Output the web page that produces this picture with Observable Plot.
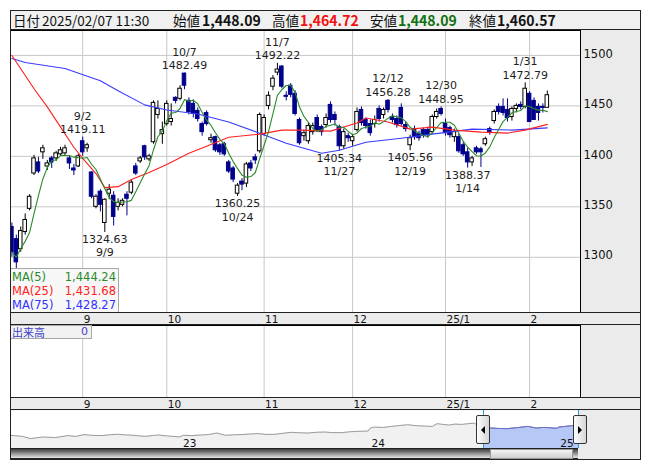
<!DOCTYPE html>
<html lang="ja"><head><meta charset="utf-8">
<script src="https://cdn.jsdelivr.net/npm/d3@7"></script>
<script src="https://cdn.jsdelivr.net/npm/@observablehq/plot@0.6"></script>
<style>
html,body{margin:0;padding:0;background:#fff;}
#root{position:relative;width:653px;height:470px;overflow:hidden;font-family:"DejaVu Sans",sans-serif;}
.box{position:absolute;box-sizing:border-box;}
.hd{position:absolute;top:0;line-height:18px;white-space:nowrap;font-family:"Noto Sans CJK JP",sans-serif;font-size:13.5px;color:#111;}
.hd.b{font-weight:bold;font-size:14px;}
</style></head><body><div id="root"></div>
<script>
// ---------- data ----------
const dates = [
"2024/08/08","2024/08/09","2024/08/13","2024/08/14","2024/08/15","2024/08/16","2024/08/19","2024/08/20","2024/08/21","2024/08/22","2024/08/23","2024/08/26","2024/08/27","2024/08/28","2024/08/29","2024/08/30",
"2024/09/02","2024/09/03","2024/09/04","2024/09/05","2024/09/06","2024/09/09","2024/09/10","2024/09/11","2024/09/12","2024/09/13","2024/09/17","2024/09/18","2024/09/19","2024/09/20","2024/09/24","2024/09/25","2024/09/26","2024/09/27","2024/09/30",
"2024/10/01","2024/10/02","2024/10/03","2024/10/04","2024/10/07","2024/10/08","2024/10/09","2024/10/10","2024/10/11","2024/10/15","2024/10/16","2024/10/17","2024/10/18","2024/10/21","2024/10/22","2024/10/23","2024/10/24","2024/10/25","2024/10/28","2024/10/29","2024/10/30","2024/10/31",
"2024/11/01","2024/11/05","2024/11/06","2024/11/07","2024/11/08","2024/11/11","2024/11/12","2024/11/13","2024/11/14","2024/11/15","2024/11/18","2024/11/19","2024/11/20","2024/11/21","2024/11/22","2024/11/25","2024/11/26","2024/11/27","2024/11/28","2024/11/29",
"2024/12/02","2024/12/03","2024/12/04","2024/12/05","2024/12/06","2024/12/09","2024/12/10","2024/12/11","2024/12/12","2024/12/13","2024/12/16","2024/12/17","2024/12/18","2024/12/19","2024/12/20","2024/12/23","2024/12/24","2024/12/25","2024/12/26","2024/12/27","2024/12/30",
"2025/01/06","2025/01/07","2025/01/08","2025/01/09","2025/01/10","2025/01/14","2025/01/15","2025/01/16","2025/01/17","2025/01/20","2025/01/21","2025/01/22","2025/01/23","2025/01/24","2025/01/27","2025/01/28","2025/01/29","2025/01/30","2025/01/31",
"2025/02/03","2025/02/04","2025/02/05","2025/02/06","2025/02/07"];
const open = [1330,1318,1308,1325,1348,1383,1394,1404,1390,1398,1398,1402,1403,1398,1388,1390,
1415,1408,1384,1350,1365,1334,1363,1361,1350,1352,1362,1364,1390,1395,1410,1397,1414,1441,1422,
1432,1434,1458,1457,1482,1455,1452,1445,1432,1443,1416,1419,1411,1412,1394,1388,1363,1375,1373,1393,1399,1405,
1422,1450,1469,1483,1489,1460,1470,1462,1436,1420,1415,1424,1438,1429,1431,1451,1441,1429,1410,1420,
1415,1426,1446,1436,1432,1432,1447,1441,1455,1439,1437,1448,1431,1411,1427,1422,1426,1426,1424,1439,1447,
1432,1428,1419,1419,1411,1404,1394,1408,1407,1412,1427,1435,1449,1449,1446,1439,1447,1451,1449,
1462,1455,1449,1449,1448.09];
const high = [1334,1322,1330,1343,1362,1401,1399,1411,1396,1400,1405,1409,1411,1400,1392,1402,
1419.11,1413,1385,1362,1367,1358,1372,1365,1358,1358,1365,1376,1393,1400,1411,1402,1455,1455,1434,
1455,1452,1459,1470,1482.49,1458,1456,1448,1434,1445,1422,1420,1413,1414,1396,1390,1373,1378,1394,1396,1402,1443,
1441,1464,1480,1492.22,1490,1464,1472,1465,1438,1426,1433,1433,1441,1431,1442,1454,1444,1431,1427,1423,
1421,1448,1449,1438,1436,1440,1450,1448,1456.28,1442,1440,1452,1434,1421,1430,1425,1428,1429,1441,1447,1448.95,
1437,1430,1427,1422,1414,1408,1400,1410,1409,1419,1429,1446,1452,1457,1457,1449,1452,1454,1472.79,
1464,1458,1452,1452,1464.72];
const low = [1300,1288,1305,1322,1346,1381,1383,1397,1386,1388,1395,1400,1400,1387,1381,1389,
1400,1404,1358,1348,1345,1324.63,1357,1331,1346,1350,1341,1362,1381,1393,1396,1395,1412,1437,1412,
1430,1430,1452,1455,1466,1441,1438,1434,1420,1430,1413,1404,1401,1400,1383,1374,1360.25,1366,1369,1385,1392,1403,
1420,1446,1465,1480,1467,1455,1458,1440,1411,1415,1412,1421,1424,1420,1428,1433,1430,1405.34,1407,1414,
1410,1424,1430,1427,1420,1428,1434,1437,1443,1433,1428,1430,1424,1405.56,1416,1415,1418,1418,1422,1437,1440,
1420,1418,1414,1403,1400,1388.37,1390,1402,1389,1410,1421,1432,1441,1440,1434,1435,1443,1446,1447,
1434,1436,1435,1443,1448.09];
const close = [1305,1295,1326,1337,1360,1398,1385,1408,1393,1394,1403,1406,1408,1393,1386,1400,
1404,1411,1360,1360,1352,1357,1367,1340,1354,1356,1358,1374,1383,1398,1399,1400,1453,1447,1426,
1452,1437,1455,1467,1470,1444,1442,1437,1424,1432,1418,1406,1404,1402,1385,1377,1371,1372,1392,1388,1396,1441,
1438,1460,1477,1486,1469,1459,1461,1442,1413,1423,1430,1430,1426,1424,1438,1436,1436,1410,1424,1418,
1419,1444,1433,1430,1423,1436,1437,1446,1446,1436,1431,1432,1427,1418,1419,1418,1421,1421,1439,1444,1442,
1423,1421,1424,1405,1402,1394,1398,1404,1404,1417,1424,1444,1444,1443,1438,1447,1450,1449,1467,
1434,1436,1443,1448,1460.57];
// moving averages (index of trading day, value)
const ma25Day = [0,5,8,11,14,16,19,21,24,27,31,35,40,44,49,56,61,65,72,75,78,80,85,90,95,100,106,112,116,121];
const ma25Val = [1500,1467,1449,1429,1409,1398,1383,1369,1370,1377,1384,1392,1403,1410,1419,1422,1426,1426,1425,1429,1433,1438,1434,1427,1429,1426,1424,1423,1426,1431.68];
const ma75Day = [0,3,12,20,24,30,35,42,49,56,62,70,74,80,88,95,104,113,121];
const ma75Val = [1497,1493,1487,1475,1465,1451,1446,1442,1434,1423,1413,1403,1406,1414,1418,1422,1427,1426,1428.27];
const yTicks = [1300,1350,1400,1450,1500];
const monthTickLabels = ["9","10","11","12","25/1","2"];
const highMarkDates = ["2024/09/02","2024/10/07","2024/11/07","2024/12/12","2024/12/30","2025/01/31"];
const lowMarkDates = ["2024/09/09","2024/10/24","2024/11/27","2024/12/19","2025/01/14"];
const maNames = ["MA(5)","MA(25)","MA(75)"];
const maLast = [1444.24,1431.68,1428.27];
const maColors = ["#2a8a2a","#ff2020","#3030ff"];
const volumeLast = 0;
// navigator (long history): year fraction and line level read from the strip
const navYear = [2022.093,2022.12,2022.155,2022.198,2022.265,2022.33,2022.397,2022.44,2022.483,2022.53,2022.573,2022.62,2022.66,2022.71,2022.747,2022.78,2022.815,2022.85,2022.879,2022.925,2022.96,2022.99,
2023.01,2023.056,2023.1,2023.142,2023.188,2023.232,2023.28,2023.32,2023.36,2023.406,2023.45,2023.496,2023.54,2023.584,2023.63,2023.67,2023.72,2023.76,2023.80,2023.848,2023.89,2023.934,2023.99,
2024.002,2024.024,2024.07,2024.112,2024.15,2024.198,2024.244,2024.29,2024.33,2024.354,2024.39,2024.42,2024.45,2024.486,2024.52,2024.551,2024.573,2024.603,2024.64,2024.68,2024.726,2024.78,2024.836,2024.881,2024.92,2024.947,2024.99,2025.002,2025.035,2025.069,2025.105];
const navLevel = [13.3,12.8,12.3,10.0,11.6,11.0,13.0,12.2,14.0,13.2,13.0,13.8,14.3,13.6,13.3,12.6,12.3,13.2,13.6,12.6,12.2,11.6,
13.3,13.0,13.6,14.0,15.6,13.3,13.8,14.0,14.6,15.0,14.2,14.3,15.4,16.3,15.8,15.6,16.4,16.6,16.0,16.0,16.8,17.3,17.6,
20.6,21.6,21.2,22.3,23.0,24.0,23.0,22.6,22.3,25.0,24.2,23.6,24.6,24.3,25.0,25.6,23.3,21.6,20.6,20.2,20.0,21.0,22.3,20.6,21.2,21.0,20.3,21.6,22.3,23.0,22.6];
const navYearTicks = [2023,2024,2025];
const navYearLabels = ["23","24","25"];

// ---------- build ----------
const root = document.getElementById("root");
const NAVY = "#00008c";
const candles = dates.map((d,i)=>({i, date:d, open:open[i], high:high[i], low:low[i], close:close[i]}));
const up = d => d.close >= d.open;
const monthStart = candles.filter((d,i)=> i>0 && d.date.slice(5,7)!==candles[i-1].date.slice(5,7)).map(d=>d.i);
const monthTicks = monthStart.map((i,k)=>({i, label: monthTickLabels[k]}));
const md = s => (+s.slice(5,7))+"/"+(+s.slice(8,10));
const highMarks = highMarkDates.map(s=>{const c=candles.find(d=>d.date===s); return {i:c.i, v:c.high, d:md(s)};});
const lowMarks = lowMarkDates.map(s=>{const c=candles.find(d=>d.date===s); return {i:c.i, v:c.low, d:md(s)};});
const ma25 = ma25Day.map((i,k)=>({i, v:ma25Val[k]}));
const ma75 = ma75Day.map((i,k)=>({i, v:ma75Val[k]}));
const xDomain = [-0.316, 128.5];
const FONT = "DejaVu Sans, sans-serif";

function place(el, left, top){ el.style.position="absolute"; el.style.left=left+"px"; el.style.top=top+"px"; root.appendChild(el); return el; }
function div(left, top, w, h, css){ const e=document.createElement("div"); e.className="box"; e.style.cssText=`left:${left}px;top:${top}px;width:${w}px;height:${h}px;`+(css||""); root.appendChild(e); return e; }

// header
const hdr = div(10,10,631,20,"background:#f0f0f0;border:1px solid #222;");
const last = candles[candles.length-1];
const f2 = d3.format(",.2f");
const hdrItems = [
  ["日付",2,"",""],[last.date + " 11:30",31,"",""],
  ["始値",162,"",""],[f2(last.open),191,"b","#111"],
  ["高値",261,"",""],[f2(last.high),289,"b","#f01010"],
  ["安値",359,"",""],[f2(last.low),387,"b","#107010"],
  ["終値",458,"",""],[f2(last.close),486,"b","#111"]];
for (const [t,x,cls,col] of hdrItems){ const s=document.createElement("span"); s.className="hd "+cls; s.textContent=t; s.style.left=x+"px"; if(col) s.style.color=col; hdr.appendChild(s); }

// main chart
div(10,30,631,283,"background:#ebebeb;");
const main = Plot.plot({
  width: 631, height: 282, marginTop: 0, marginBottom: 0, marginLeft: 0, marginRight: 61,
  x: {domain: xDomain, axis: null},
  y: {domain: [1245.3, 1524.7], axis: null},
  color: {type: "identity"},
  style: {background: "transparent", fontFamily: FONT, fontSize: "11px", color: "#111"},
  marks: [
    Plot.frame({fill: "#fff"}),
    Plot.gridY(yTicks, {stroke: "#c8c8c8", strokeOpacity: 1}),
    Plot.gridX(monthStart, {stroke: "#c8c8c8", strokeOpacity: 1}),
    Plot.axisY(yTicks, {anchor: "right", tickSize: 0, tickPadding: 3, tickFormat: d3.format("d"), fontSize: 11.5, fill: "#111", dy: -1.5}),
    Plot.ruleX(candles, {x: "i", y1: "low", y2: "high", stroke: d => up(d) ? "#000" : NAVY, clip: true}),
    Plot.rect(candles, {x1: d => d.i - 0.4, x2: d => d.i + 0.4, y1: "open", y2: "close", fill: d => up(d) ? "#fff" : NAVY, stroke: d => up(d) ? "#000" : NAVY, clip: true}),
    Plot.line(ma75, {x: "i", y: "v", stroke: "#3a3aff", strokeWidth: 1.1, clip: true}),
    Plot.line(ma25, {x: "i", y: "v", stroke: "#ff2020", strokeWidth: 1.1, clip: true}),
    Plot.lineY(candles, Plot.windowY({k: 5, anchor: "end"}, {x: "i", y: "close", stroke: "#2a8a2a", strokeWidth: 1.1, clip: true})),
    Plot.text(highMarks, {x: "i", y: "v", text: d => d.v.toFixed(2), dy: -7.5, fill: "#1e1e1e", fontSize: 11}),
    Plot.text(highMarks, {x: "i", y: "v", text: "d", dy: -21, fill: "#1e1e1e", fontSize: 11}),
    Plot.text(lowMarks, {x: "i", y: "v", text: d => d.v.toFixed(2), dy: 7, fill: "#1e1e1e", fontSize: 11}),
    Plot.text(lowMarks, {x: "i", y: "v", text: "d", dy: 20.5, fill: "#1e1e1e", fontSize: 11}),
    Plot.frame({stroke: "#000"})
  ]
});
place(main, 10, 30);

// MA legend box
const lg = div(10,268,109,45,"background:rgba(246,246,246,0.92);border:1px solid #a8a8a8;font-family:"+FONT+";font-size:11.5px;");
maNames.forEach((n,k)=>{
  const r=document.createElement("div");
  r.style.cssText=`position:absolute;left:1px;right:2px;top:${1+k*14}px;height:14px;line-height:14px;color:${maColors[k]};`;
  r.innerHTML=`<span>${n}</span><span style="position:absolute;right:0">${f2(maLast[k])}</span>`;
  lg.appendChild(r);
});

// axis bars
function axisBar(top){
  div(10,top,631,13,"background:#ebebeb;border-top:1px solid #222;border-bottom:1px solid #222;");
  const p = Plot.plot({width:631,height:13,marginTop:0,marginBottom:0,marginLeft:0,marginRight:61,
    x:{domain:xDomain,axis:null},
    style:{background:"transparent",fontFamily:FONT,fontSize:"10.5px"},
    marks:[Plot.text(monthTicks,{x:"i",text:"label",frameAnchor:"middle",textAnchor:"start",dx:1,dy:0.5,fill:"#111",fontSize:10.5})]});
  place(p,10,top);
}
axisBar(312);

// volume panel
div(10,325,631,72,"background:#ebebeb;");
const vol = Plot.plot({width:631,height:72,marginTop:0,marginBottom:0,marginLeft:0,marginRight:61,
  x:{domain:xDomain,axis:null}, y:{domain:[0,1],axis:null},
  style:{background:"transparent"},
  marks:[Plot.frame({fill:"#fff"}),Plot.gridX(monthStart,{stroke:"#c8c8c8",strokeOpacity:1}),Plot.frame({stroke:"#000"})]});
place(vol,10,325);
const vl = div(10,325,82,14,"background:#f2f2f2;border:1px solid #a8a8a8;font-family:'Noto Sans CJK JP',sans-serif;font-size:11px;line-height:12px;color:#4040c8;");
vl.innerHTML = `<span style="position:absolute;left:1px;top:0">出来高</span><span style="position:absolute;right:3px;top:0;font-family:${FONT}">${volumeLast}</span>`;

axisBar(397);

// navigator
div(10,410,631,50,"background:#ebebeb;");
const navData = navYear.map((t,k)=>({t, v:navLevel[k]}));
const selStart = 2024 + (d3.timeDay.count(new Date(2024,0,1), new Date(2024,7,8)))/366;
const selEnd = navYear[navYear.length-1];
const sel = navData.filter(d=>d.t>=selStart-1e-9);
const nav = Plot.plot({width:631,height:38,marginTop:0,marginBottom:0,marginLeft:0,marginRight:63,
  x:{domain:[navYear[0], navYear[navYear.length-1]],axis:null}, y:{domain:[0,38.3],axis:null},
  style:{background:"transparent",fontFamily:FONT,fontSize:"10.5px"},
  marks:[
    Plot.frame({fill:"#fff"}),
    Plot.areaY(navData,{x:"t",y:"v",fill:"#f1f1f1"}),
    Plot.areaY(sel,{x:"t",y:"v",fill:"#b6c8f6"}),
    Plot.lineY(navData,{x:"t",y:"v",stroke:"#9a9a9a",strokeWidth:1}),
    Plot.lineY(sel,{x:"t",y:"v",stroke:"#6a6ad2",strokeWidth:1}),
    Plot.ruleX([selStart, selEnd],{stroke:"#1aa0e0"}),
    Plot.text(navYearTicks.map((t,k)=>({t,label:navYearLabels[k]})),{x:"t",text:"label",frameAnchor:"bottom",textAnchor:"start",dx:1.5,dy:-2,fill:"#111",fontSize:10.5})
  ]});
place(nav,10,410);
const nx = v => 10 + nav.scale("x").apply(v);
// handles
function handle(cx, dir){
  const h = div(cx-7,415,14,29,"background:linear-gradient(to right,#fdfdfd,#d6d6d6);border:1px solid #333;border-radius:2px;");
  const tri = document.createElement("div");
  tri.style.cssText = "position:absolute;top:10px;left:4px;width:0;height:0;border-top:4px solid transparent;border-bottom:4px solid transparent;"+(dir<0?"border-right:4px solid #000;":"border-left:4px solid #000;");
  h.appendChild(tri);
}
handle(nx(selStart),-1); handle(nx(selEnd)+2,1);
// scroll bar
const trackW = nx(selEnd)-10;
div(10,448,trackW,11,"background:linear-gradient(to bottom,#3c3c3c,#8a8a8a 45%,#e6e6e6);border-top:1px solid #222;border-bottom:1px solid #222;");
div(nx(selStart)+7,449,nx(selEnd)-nx(selStart)-12,10,"background:linear-gradient(to bottom,#f4f4f4,#cfcfcf);border:1px solid #999;");
// outer frame
div(10,10,631,450,"border:1px solid #222;pointer-events:none;");
div(10,459,631,1,"background:#222;");
</script></body></html>
